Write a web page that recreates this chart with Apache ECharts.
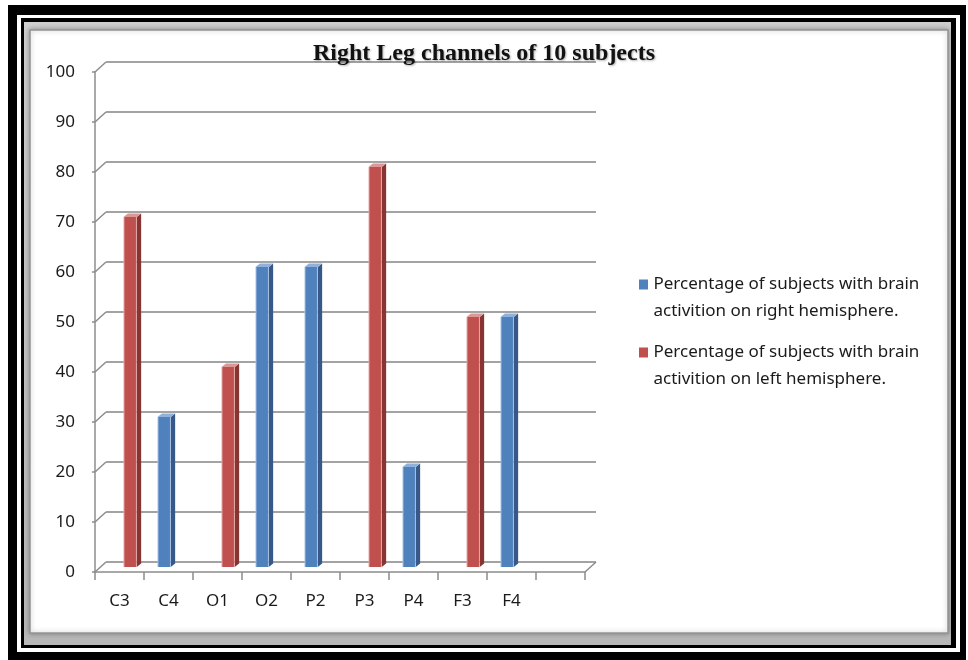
<!DOCTYPE html>
<html>
<head>
<meta charset="utf-8">
<script src="https://cdn.jsdelivr.net/npm/echarts@6/dist/echarts.min.js"></script>
<style>
html,body{margin:0;padding:0;background:#fff;}
#chart{width:968px;height:660px;}
</style>
</head>
<body>
<div id="chart"></div>
<script>
// ---- data ----
const categories = ['C3', 'C4', 'O1', 'O2', 'P2', 'P3', 'P4', 'F3', 'F4', ''];
const rightHemisphere = [null, 30, null, 60, 60, null, 20, null, 50, null];
const leftHemisphere = [70, null, 40, null, null, 80, null, 50, null, null];
const yTicks = [0, 10, 20, 30, 40, 50, 60, 70, 80, 90, 100];
const seriesNames = [
  'Percentage of subjects with brain\nactivition on right hemisphere.',
  'Percentage of subjects with brain\nactivition on left hemisphere.'
];
const titleText = 'Right Leg channels of 10 subjects';

// ---- styles ----
const DEPTH_X = 11, DEPTH_Y = 10;
const FONT = "'Noto Sans', sans-serif";
const blue = { front: '#4f81bd', light: '#a9c3e4', side: '#36598a', top: '#8fb1dc' };
const red = { front: '#c0504d', light: '#e3a9a7', side: '#873432', top: '#dc9896' };

function toPairs(arr) {
  const out = [];
  arr.forEach((v, i) => { if (v != null) out.push([i, v]); });
  return out;
}

function barRenderer(side, c) {
  return function (params, api) {
    const idx = api.value(0), v = api.value(1);
    const base = api.coord([idx, 0]);
    const top = api.coord([idx, v]);
    const bw = api.size([1, 0])[0];
    const w = bw * 0.27;
    const x0 = side < 0 ? base[0] - bw * 0.306 : base[0];
    const dx = bw * 0.09, dy = 3.5;
    const y0 = top[1], y1 = base[1];
    return {
      type: 'group',
      children: [
        { type: 'polygon', shape: { points: [[x0 + w, y0], [x0 + w + dx, y0 - dy], [x0 + w + dx, y1 - dy], [x0 + w, y1]] }, style: { fill: c.side } },
        { type: 'polygon', shape: { points: [[x0, y0], [x0 + dx, y0 - dy], [x0 + w + dx, y0 - dy], [x0 + w, y0]] }, style: { fill: c.top } },
        { type: 'rect', shape: { x: x0, y: y0, width: w, height: y1 - y0 },
          style: { fill: new echarts.graphic.LinearGradient(0, 0, 1, 0, [
            { offset: 0, color: c.light }, { offset: 0.14, color: c.front }, { offset: 0.9, color: c.front }, { offset: 1, color: c.light }
          ]) } }
      ]
    };
  };
}

const edgeData = yTicks.map(v => [0, v, -1]).concat([[categories.length - 1, 0, 1]]);

const chart = echarts.init(document.getElementById('chart'), null, { renderer: 'canvas' });
chart.setOption({
  animation: false,
  backgroundColor: '#ffffff',
  title: {
    text: titleText,
    left: 'center',
    top: 37,
    textStyle: {
      fontFamily: "'Liberation Serif', 'Times New Roman', serif",
      fontWeight: 'bold',
      fontSize: 24,
      color: '#111',
      textShadowColor: 'rgba(0,0,0,0.3)',
      textShadowBlur: 2,
      textShadowOffsetX: 1,
      textShadowOffsetY: 1
    },
    z: 10
  },
  graphic: [
    { type: 'rect', z: -100, shape: { x: 8, y: 5, width: 958, height: 660 }, style: { fill: '#000' } },
    { type: 'rect', z: -99, shape: { x: 17, y: 15, width: 943, height: 637 }, style: { fill: '#fff' } },
    { type: 'rect', z: -98, shape: { x: 21, y: 18, width: 935, height: 630 }, style: { fill: '#000' } },
    { type: 'rect', z: -97, shape: { x: 24, y: 22, width: 927, height: 623 }, style: { fill: new echarts.graphic.LinearGradient(0, 0, 0, 1, [{ offset: 0, color: '#cfcfcf' }, { offset: 1, color: '#b8b8b8' }]) } },
    { type: 'rect', z: -96, shape: { x: 30, y: 30, width: 918, height: 603 }, style: { fill: '#fff', stroke: '#949494', lineWidth: 1.5, shadowColor: 'rgba(0,0,0,0.3)', shadowBlur: 5 } }
  ],
  legend: {
    data: seriesNames,
    orient: 'vertical',
    left: 634,
    top: 266,
    itemGap: 14,
    itemWidth: 10,
    itemHeight: 54,
    icon: 'path://M0,9.5L10,9.5L10,20.5L0,20.5Z M0,0L0,60Z',
    itemStyle: { borderWidth: 0 },
    selectedMode: false,
    textStyle: { fontFamily: FONT, fontSize: 17, lineHeight: 27, color: '#1a1a1a' }
  },
  grid: [
    { left: 95, top: 72, width: 490, height: 500 },
    { left: 99, top: 67, width: 490, height: 500 },
    { left: 106, top: 62, width: 490, height: 500 }
  ],
  xAxis: [
    { gridIndex: 0, type: 'category', data: categories, boundaryGap: true,
      axisLine: { lineStyle: { color: '#8c8c8c', width: 1.5 } },
      axisTick: { show: true, length: 8, interval: 0, lineStyle: { color: '#8c8c8c', width: 1.5 } },
      axisLabel: { interval: 0, margin: 21, fontFamily: FONT, fontSize: 17, color: '#1a1a1a' },
      splitLine: { show: false } },
    { gridIndex: 1, type: 'category', data: categories, show: false },
    { gridIndex: 2, type: 'category', data: categories, show: false }
  ],
  yAxis: [
    { gridIndex: 0, type: 'value', min: 0, max: 100, interval: 10,
      axisLine: { show: true, lineStyle: { color: '#8c8c8c', width: 1.5 } },
      axisTick: { show: true, length: 3, lineStyle: { color: '#8c8c8c', width: 1.5 } },
      axisLabel: { margin: 20, fontFamily: FONT, fontSize: 17, color: '#1a1a1a' },
      splitLine: { show: false } },
    { gridIndex: 1, type: 'value', min: 0, max: 100, interval: 10, show: false },
    { gridIndex: 2, type: 'value', min: 0, max: 100, interval: 10,
      axisLine: { show: false }, axisTick: { show: false }, axisLabel: { show: false },
      splitLine: { show: true, lineStyle: { color: '#a3a3a3', width: 2 } } }
  ],
  series: [
    { name: seriesNames[0], type: 'custom', xAxisIndex: 1, yAxisIndex: 1,
      itemStyle: { color: blue.front }, encode: { x: 0, y: 1 },
      renderItem: barRenderer(-1, blue), data: toPairs(rightHemisphere), z: 5 },
    { name: seriesNames[1], type: 'custom', xAxisIndex: 1, yAxisIndex: 1,
      itemStyle: { color: red.front }, encode: { x: 0, y: 1 },
      renderItem: barRenderer(1, red), data: toPairs(leftHemisphere), z: 5 },
    { name: 'edges', type: 'custom', xAxisIndex: 0, yAxisIndex: 0, encode: { x: 0, y: 1 }, silent: true, z: 3,
      renderItem: function (params, api) {
        const p = api.coord([api.value(0), api.value(1)]);
        const bw = api.size([1, 0])[0];
        const x = p[0] + api.value(2) * bw / 2;
        return { type: 'line', shape: { x1: x, y1: p[1], x2: x + DEPTH_X, y2: p[1] - DEPTH_Y },
          style: { stroke: '#8c8c8c', lineWidth: 1.5 } };
      },
      data: edgeData }
  ]
});
</script>
</body>
</html>
